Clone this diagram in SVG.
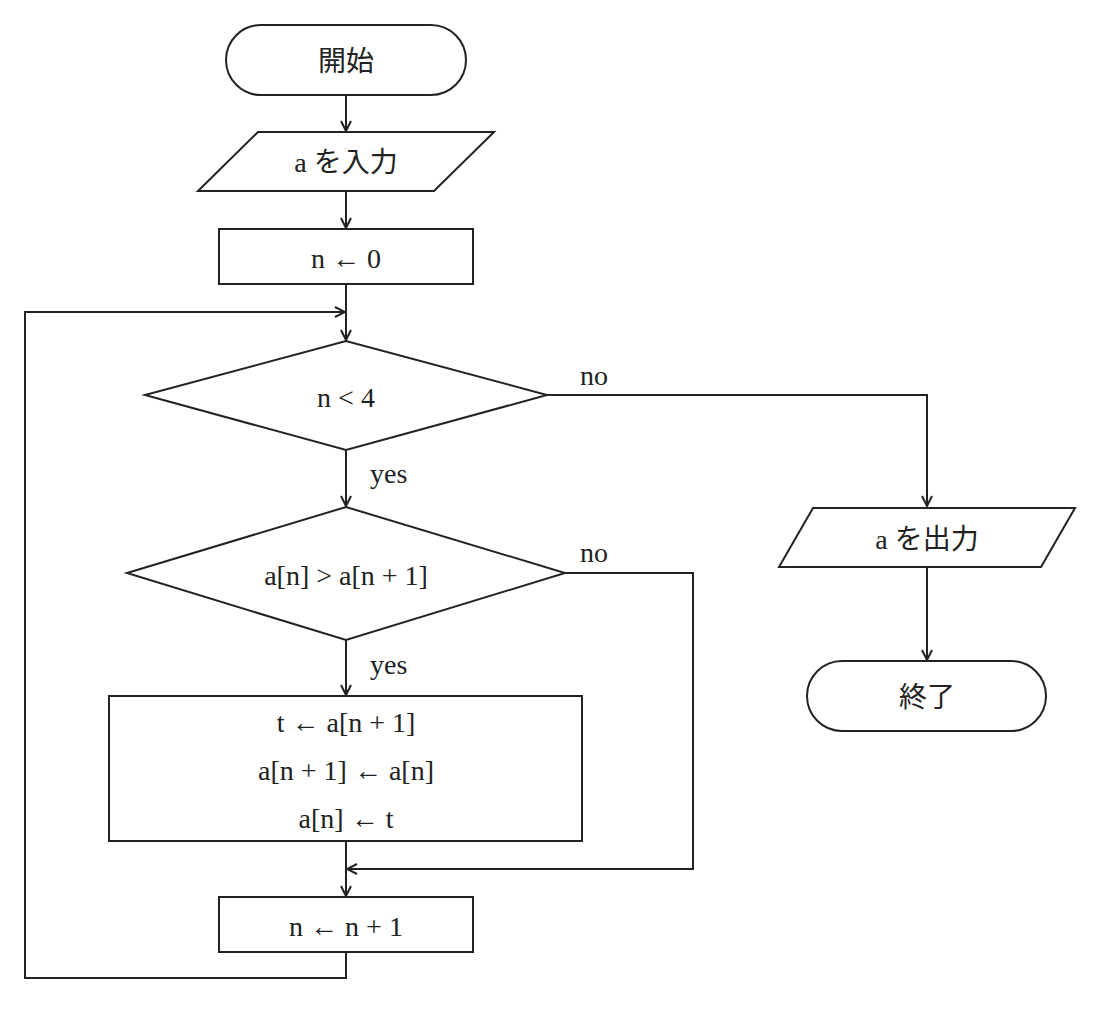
<svg xmlns="http://www.w3.org/2000/svg" width="1100" height="1029" viewBox="0 0 1100 1029">
<style>
.s{fill:#fff;stroke:#222;stroke-width:2}
.c{fill:none;stroke:#222;stroke-width:2}
text{font-family:"Liberation Serif","Noto Sans CJK JP",serif;font-size:28px;fill:#222;text-anchor:middle;dominant-baseline:central}
.l{text-anchor:start}
</style>
<defs><marker id="a" viewBox="0 0 12 12" refX="11" refY="6" markerWidth="12" markerHeight="12" markerUnits="userSpaceOnUse" orient="auto"><path d="M1,1 L11,6 L1,11" fill="none" stroke="#222" stroke-width="2"/></marker></defs>
<rect width="1100" height="1029" fill="#fff"/>
<g id="connectors">
<path class="c" d="M346,95 V131" marker-end="url(#a)"/>
<path class="c" d="M346,191 V228" marker-end="url(#a)"/>
<path class="c" d="M346,284 V340" marker-end="url(#a)"/>
<path class="c" d="M346,952 V978 H25 V312 H345" marker-end="url(#a)"/>
<path class="c" d="M547,395 H927 V506" marker-end="url(#a)"/>
<path class="c" d="M346,450 V506" marker-end="url(#a)"/>
<path class="c" d="M565,573 H693 V869 H347" marker-end="url(#a)"/>
<path class="c" d="M346,640 V695" marker-end="url(#a)"/>
<path class="c" d="M346,841 V896" marker-end="url(#a)"/>
<path class="c" d="M927,567 V660" marker-end="url(#a)"/>
<text class="l" x="580" y="375">no</text>
<text class="l" x="370" y="473">yes</text>
<text class="l" x="580" y="552">no</text>
<text class="l" x="370" y="664">yes</text>
</g>
<g id="start"><rect class="s" x="226" y="25" width="240" height="70" rx="35"/><text x="346" y="61">開始</text></g>
<g id="input"><polygon class="s" points="258,132 494,132 434,191 198,191"/><text x="346" y="162">a を入力</text></g>
<g id="init"><rect class="s" x="219" y="229" width="254" height="55"/><text x="346" y="258">n ← 0</text></g>
<g id="cond1"><polygon class="s" points="145,395 346,341 547,395 346,450"/><text x="346" y="397">n &lt; 4</text></g>
<g id="cond2"><polygon class="s" points="127,573 346,507 565,573 346,640"/><text x="346" y="575">a[n] &gt; a[n + 1]</text></g>
<g id="swap"><rect class="s" x="109" y="696" width="473" height="145"/><text x="346" y="722">t ← a[n + 1]</text><text x="346" y="770">a[n + 1] ← a[n]</text><text x="346" y="818">a[n] ← t</text></g>
<g id="inc"><rect class="s" x="219" y="897" width="254" height="55"/><text x="346" y="926">n ← n + 1</text></g>
<g id="output"><polygon class="s" points="813,508 1075,508 1041,567 779,567" /><text x="927" y="539">a を出力</text></g>
<g id="end"><rect class="s" x="807" y="661" width="239" height="70" rx="35"/><text x="927" y="697">終了</text></g>
</svg>
